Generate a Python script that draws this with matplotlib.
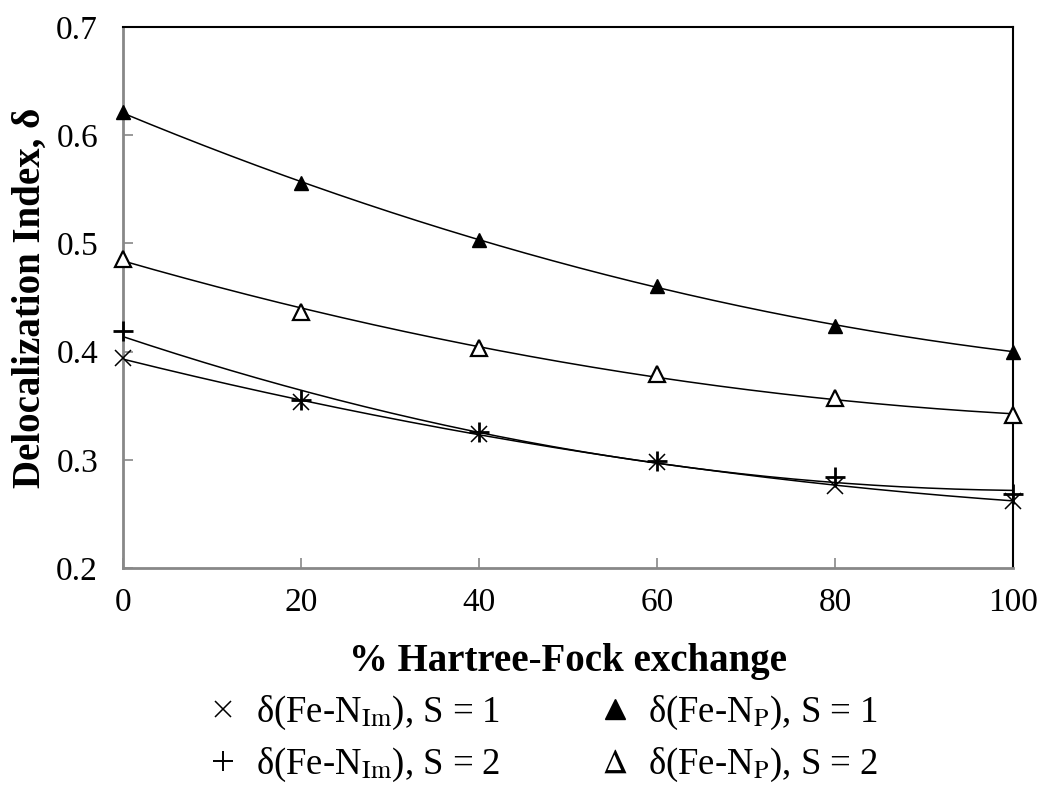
import matplotlib
matplotlib.use('Agg')
import matplotlib.pyplot as plt
import numpy as np
from matplotlib.lines import Line2D

plt.rcParams['font.family'] = ['Liberation Serif', 'DejaVu Serif']
plt.rcParams['mathtext.fontset'] = 'stix'

hf = [0, 20, 40, 60, 80, 100]
im_s1 = [0.394, 0.353, 0.324, 0.298, 0.276, 0.262]
im_s2 = [0.419, 0.355, 0.326, 0.299, 0.284, 0.268]
p_s1 = [0.621, 0.556, 0.503, 0.461, 0.424, 0.400]
p_s2 = [0.486, 0.437, 0.403, 0.379, 0.357, 0.341]

labels = [r'δ(Fe-N$_{\mathrm{Im}}$), S = 1',
          r'δ(Fe-N$_{\mathrm{Im}}$), S = 2',
          r'δ(Fe-N$_{\mathrm{P}}$), S = 1',
          r'δ(Fe-N$_{\mathrm{P}}$), S = 2']

fig = plt.figure(figsize=(10.41, 7.9), dpi=100)
ax = fig.add_axes([123 / 1041, 1 - 568 / 790, 890 / 1041, 541 / 790])

xs = np.linspace(0, 100, 200)
for ys in [im_s1, im_s2, p_s1, p_s2]:
    # 2nd order trendline
    c = np.polyfit(hf, ys, 2)
    ax.plot(xs, np.polyval(c, xs), color='black', lw=1.1, zorder=2)

ax.plot(hf, im_s1, 'x', color='black', ms=12, mew=1.1, zorder=3, clip_on=False)
ax.plot(hf, im_s2, '+', color='black', ms=15, mew=2, zorder=3, clip_on=False)
ax.plot(hf, p_s1, '^', color='black', ms=10, zorder=3, clip_on=False)
ax.plot(hf, p_s2, '^', mfc='white', mec='black', ms=12, mew=1.6, zorder=3, clip_on=False)

ax.set_xlim(0, 100)
ax.set_ylim(0.2, 0.7)
ax.set_xticks([0, 20, 40, 60, 80, 100])
ax.set_yticks([0.2, 0.3, 0.4, 0.5, 0.6, 0.7])
ax.set_yticklabels(['0.2', '0.3', '0.4', '0.5', '0.6', '0.7'])
ax.tick_params(direction='in', length=7, width=1.2, color='#888888',
               labelsize=24)
ax.tick_params(axis='x', pad=14)
ax.tick_params(axis='y', pad=18)

for s in ['left', 'bottom']:
    ax.spines[s].set_color('#888888')
    ax.spines[s].set_linewidth(2)
for s in ['top', 'right']:
    ax.spines[s].set_color('black')
    ax.spines[s].set_linewidth(1.5)

ax.set_xlabel('% Hartree-Fock exchange', fontsize=28, fontweight='bold', labelpad=18)
ax.set_ylabel('Delocalization Index, δ', fontsize=28, fontweight='bold', labelpad=5)

handles = [
    Line2D([], [], ls='none', marker='x', color='black', ms=12, mew=1.1),
    Line2D([], [], ls='none', marker='+', color='black', ms=14, mew=1.4),
    Line2D([], [], ls='none', marker='^', color='black', ms=15),
    Line2D([], [], ls='none', marker=r'$\Delta$', color='black', ms=17, mew=0),
]
fig.legend(handles, labels, ncol=2, frameon=False, fontsize=26.5,
           loc='center', bbox_to_anchor=(0.52, 0.065), columnspacing=2.6,
           handletextpad=0.4, labelspacing=0.36, handlelength=1.0)

fig.savefig('out.png', dpi=100)
